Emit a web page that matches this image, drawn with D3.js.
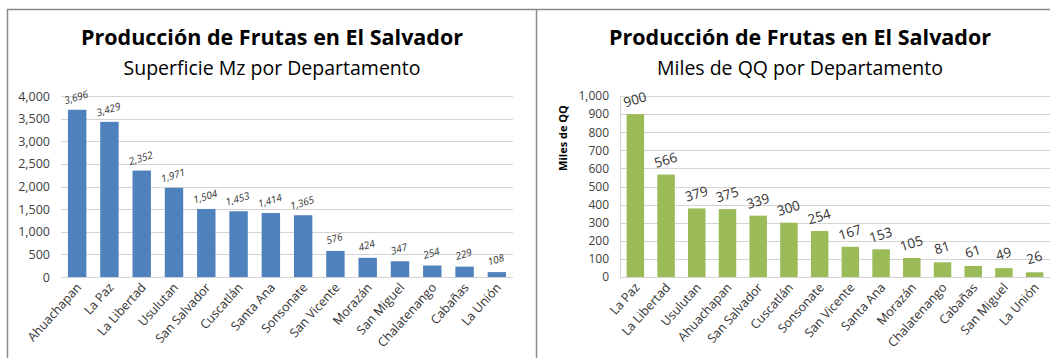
<!DOCTYPE html>
<html><head><meta charset="utf-8">
<script src="https://cdn.jsdelivr.net/npm/d3@7"></script>
<style>body{margin:0;background:#fff;} text{font-family:"Open Sans",sans-serif;}</style>
</head><body>
<svg id="c" width="1050" height="358"></svg>
<script>
const titleText = "Producción de Frutas en El Salvador";
const leftSubtitle = "Superficie Mz por Departamento";
const leftCategories = ["Ahuachapan","La Paz","La Libertad","Usulutan","San Salvador","Cuscatlán","Santa Ana","Sonsonate","San Vicente","Morazán","San Miguel","Chalatenango","Cabañas","La Unión"];
const leftValues = [3696,3429,2352,1971,1504,1453,1414,1365,576,424,347,254,229,108];
const leftTicks = [0,500,1000,1500,2000,2500,3000,3500,4000];

const rightSubtitle = "Miles de QQ por Departamento";
const rightAxisTitle = "Miles de QQ";
const rightCategories = ["La Paz","La Libertad","Usulutan","Ahuachapan","San Salvador","Cuscatlán","Sonsonate","San Vicente","Santa Ana","Morazán","Chalatenango","Cabañas","San Miguel","La Unión"];
const rightValues = [900,566,379,375,339,300,254,167,153,105,81,61,49,26];
const rightTicks = [0,100,200,300,400,500,600,700,800,900,1000];

const svg = d3.select("#c");
const fmt = d3.format(",");

// frame
svg.append("line").attr("x1",7).attr("x2",1050).attr("y1",9.5).attr("y2",9.5).attr("stroke","#8a8a8a").attr("stroke-width",1.5);
svg.append("line").attr("x1",7.5).attr("x2",7.5).attr("y1",9).attr("y2",358).attr("stroke","#8a8a8a").attr("stroke-width",1.5);
svg.append("line").attr("x1",536.5).attr("x2",536.5).attr("y1",9).attr("y2",358).attr("stroke","#8a8a8a").attr("stroke-width",1.5);

function chart(o){
  const g = svg.append("g");
  g.append("text").attr("x",o.cx).attr("y",45).attr("text-anchor","middle")
    .attr("font-size",21.5).attr("font-weight","bold").attr("fill","#000").text(titleText);
  g.append("text").attr("x",o.cx).attr("y",75).attr("text-anchor","middle")
    .attr("font-size",19.5).attr("fill","#000").text(o.subtitle);
  const x = d3.scaleBand().domain(o.cats).range([o.x0,o.x1]).paddingInner(0.43).paddingOuter(0.215);
  const y = d3.scaleLinear().domain([0,o.max]).range([277,96]);
  // grid
  g.append("g").selectAll("line").data(o.ticks).join("line")
    .attr("x1",o.x0).attr("x2",o.gx1).attr("y1",d=>Math.round(y(d))+0.5).attr("y2",d=>Math.round(y(d))+0.5)
    .attr("stroke","#d4d4d4").attr("stroke-width",1);
  if(o.vline) g.append("line").attr("x1",o.x0+0.5).attr("x2",o.x0+0.5).attr("y1",96).attr("y2",277.5).attr("stroke","#d4d4d4");
  const ya = g.append("g").attr("transform",`translate(${o.x0},0)`)
    .call(d3.axisLeft(y).tickValues(o.ticks).tickFormat(fmt).tickSize(0).tickPadding(o.tickPad));
  ya.select(".domain").remove();
  ya.selectAll("text").attr("font-family","Open Sans").attr("font-size",o.tickSize).attr("fill","#404040");
  // bars
  g.append("g").selectAll("rect").data(o.vals).join("rect")
    .attr("x",(d,i)=>x(o.cats[i])).attr("width",x.bandwidth())
    .attr("y",d=>y(d)).attr("height",d=>y(0)-y(d)).attr("fill",o.color);
  // value labels
  g.append("g").selectAll("text").data(o.vals).join("text")
    .attr("transform",(d,i)=>`translate(${x(o.cats[i])+x.bandwidth()/2+o.lblDx},${y(d)-o.lblDy}) rotate(-17)`)
    .attr("text-anchor","middle").attr("font-size",o.lblSize).attr("font-style",o.lblStyle).attr("fill","#333")
    .text(d=>fmt(d));
  // x labels
  g.append("g").selectAll("text").data(o.cats).join("text")
    .attr("transform",d=>`translate(${x(d)+x.bandwidth()/2+5},${288}) rotate(-48)`)
    .attr("text-anchor","end").attr("font-size",12.5).attr("fill","#333").text(d=>d);
  if(o.axisTitle){
    g.append("text").attr("transform",`translate(567,138) rotate(-90)`).attr("text-anchor","middle")
      .attr("font-size",11).attr("font-weight","bold").attr("fill","#000").text(o.axisTitle);
  }
}

chart({cx:272, subtitle:leftSubtitle, cats:leftCategories, vals:leftValues, ticks:leftTicks, max:4000,
  x0:61, x1:513, gx1:513, color:"#4F81BD", tickPad:11, tickSize:12.5, lblDx:0, lblDy:9, lblSize:10, lblStyle:"italic", vline:false});
chart({cx:800, subtitle:rightSubtitle, cats:rightCategories, vals:rightValues, ticks:rightTicks, max:1000,
  x0:620, x1:1050, gx1:1050, color:"#9BBB59", tickPad:11, tickSize:12, lblDx:1, lblDy:10, lblSize:13.5, lblStyle:"normal", vline:true, axisTitle:rightAxisTitle});
</script>
</body></html>
